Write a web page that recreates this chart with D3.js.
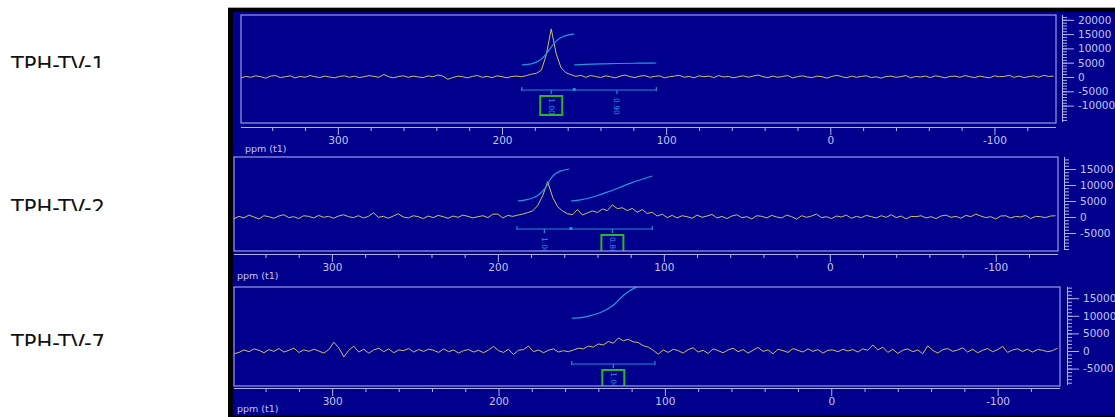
<!DOCTYPE html>
<meta charset="utf-8">
<head>
    <title>TPH-TV NMR spectra</title>
</head>
<script src="https://d3js.org/d3.v7.min.js"></script>
<style>
    body { margin: 0; background: #fff; }
    .frame { fill: none; stroke: #9a9ae6; stroke-width: 1.2px; }
    .axis text { fill: #c4c4f2; font-family: "DejaVu Sans", sans-serif; font-size: 10.5px; }
    .axis line, .axis path { stroke: #b4b4ee; }
    .spec { fill: none; stroke: #cfc06a; stroke-width: 1px; }
    .integ { fill: none; stroke: #1f9ae0; stroke-width: 1.2px; }
    .bracket { stroke: #1c8ed6; stroke-width: 1.2px; fill: none; }
    .ilabel { fill: #2a8ee8; font-family: "DejaVu Sans", sans-serif; font-size: 7.5px; }
    .gbox { fill: none; stroke: #2cb52c; stroke-width: 2px; }
</style>
<div id="viz"></div>
<script>

// spectra sampled every 3 ppm starting at 359 ppm
var ppmStart = 359, ppmStep = 3;

var spec1 = [
 -300, 200, -100, 400, 100, -400, 300, 500, -200, 100,
  400, -300, 200, -100, 500, 100, -200, 300, 0, -300,
  200, 400, -100, 300, -200, 100, 500, 200, -100, 900,
  100, -300, 200, 400, -100, 300, 0, -200, 400, 100,
  700, 300, -800, -200, 300, 100, -300, 200, 500, -100,
  200, -200, 400, 100, -300, 200, 300, 100, 500, 1000,
  1300, 2400, 7800, 16800, 8200, 3200, 1500, 800, 200, 600,
  -100, 500, 200, -200, 400, 100, -300, 300, 700, 100,
  -200, 300, 500, -100, 200, 400, -300, 100, 300, 600,
  -100, 200, -300, 400, 100, 300, -200, 500, 0, 200,
  -300, 100, 400, -100, 300, 700, 100, -200, 300, -100,
  200, 500, -300, 100, 400, 0, -200, 300, 100, -400,
  200, 600, 100, -300, 300, -100, 200, 400, -200, 100,
  -400, 200, 300, -100, 100, 500, -300, 200, 0, 300,
  -200, 400, 100, -300, 200, 300, -100, 500, 100, -200,
  300, 0, -300, 400, 100, 200, 600, -100, 300, -200,
  100, 400, -100, 600, 200, 300
];

var spec2 = [
 -500, 200, -300, 600, 0, -600, 400, 100, -400, 300,
  700, -200, 100, -500, 400, 200, -300, 500, -100, 200,
 -400, 300, 700, 100, -200, 400, -300, 200, 1300, -100,
  200, -400, 300, 1000, 0, -300, 400, 100, -500, 300,
 -200, 500, 100, -400, 300, -100, 600, 200, -300, 100,
  400, -200, 900, 900, -300, 500, 200, 600, 900, 1400,
  1900, 3600, 6600, 11000, 6200, 3200, 1900, 1000, 700, 2300,
  600, 1300, 1900, 1400, 2500, 2000, 3800, 2600, 2900, 2000,
  2700, 1500, 2300, 1100, 1500, 300, 900, -200, 500, -300,
  400, 100, -400, 600, -100, 300, 800, -300, 200, -500,
  300, 700, -200, 100, -600, 400, 200, -300, 500, 0,
 -300, 600, 100, -700, 400, -100, 300, 900, -200, 100,
 -500, 300, 0, 600, -400, 200, -200, 500, 100, -300,
  400, -100, 700, -200, 300, -600, 200, 100, 400, -300,
  100, -500, 300, 600, -100, 200, -400, 500, 100, 900,
  300, -200, 100, -600, 300, 400, -300, 200, 0, 500,
 -500, 200, 100, -200, 300, 400
];

var spec3 = [
 -800, -400, 300, -200, 600, 200, -500, 400, -100, 700,
 -300, 200, 800, -400, 300, -100, 500, 0, -600, 400,
  2500, 900, -1700, 200, 1400, -300, 500, -600, 300, 800,
 -200, 600, -500, 300, 100, 700, -300, 400, -100, 500,
  200, -400, 600, -200, 300, -600, 100, 400, -300, 200,
 -500, 300, 1300, 100, -400, 500, -1000, 200, 400, 1400,
 -200, 300, -500, 200, 600, -300, 100, -200, 300, 800,
  600, 1400, 1100, 2000, 1700, 2700, 2200, 3700, 2900, 3300,
  2600, 2400, 1500, 1100, 200, -900, 300, -400, 500, 100,
 -600, 400, 900, -300, 200, -700, 600, 100, -500, 300,
  800, -200, 400, -600, 200, 1000, -100, 300, -800, 500,
  100, -400, 700, 200, -300, 600, -100, 400, -600, 200,
  300, -200, 500, 0, 400, -300, 600, 200, 1700, 300,
  1100, -400, 500, -700, 200, 600, -200, 300, -800, 1500,
  200, -600, 400, 700, -100, 300, 900, -300, 500, -500,
  200, 700, -200, 400, 1300, -400, 300, 600, -100, 500,
 -300, 400, 200, -200, 100, 800
];

// integral curves [ppm, intensity]
var integ1 = [
  [[188, 4200], [182, 4500], [177, 5500], [173, 8000], [170, 10500], [167, 12800], [163, 14200], [159, 14800], [156, 15000]],
  [[156, 4200], [150, 4400], [140, 4550], [130, 4750], [120, 4800], [106, 4900]]
];
var integ2 = [
  [[188, 5000], [183, 5300], [179, 5800], [175, 7000], [171, 9000], [169, 11500], [166, 13500], [162, 14500], [157, 15000]],
  [[156, 5000], [150, 5300], [145, 5900], [140, 6700], [135, 7600], [130, 8500], [125, 9600], [120, 10600], [115, 11500], [107, 12800]]
];
var integ3 = [
  [[156, 9300], [150, 9400], [146, 9900], [140, 10600], [135, 11700], [130, 13200], [126, 15500], [121, 17200], [117, 18200], [112, 19500]]
];

// integration regions: from, to, centre, value, boxed
var regions1 = [[188, 156, 170, "1.00", true], [156, 106, 130, "0.90", false]];
var regions2 = [[188.5, 156, 172, "1.00", false], [156, 107, 131, "0.80", true]];
var regions3 = [[156, 106, 131, "1.00", true]];

var sampleNames = ["TPH-TV-1", "TPH-TV-2", "TPH-TV-7"];
var xMajor = [300, 200, 100, 0, -100];
var yTicks1 = [20000, 15000, 10000, 5000, 0, -5000, -10000];
var yTicks2 = [15000, 10000, 5000, 0, -5000];
var yTicks3 = [15000, 10000, 5000, 0, -5000];

var panels = [
  {spec: spec1, integ: integ1, regions: regions1, yTicks: yTicks1,
   x0: 241, x1: 1056, y0: 15, y1: 123, axisY: 127, zeroY: 77, per5k: 14.3, yAxisX: 1062,
   bracketY: 90, pplX: 245, pplY: 152, nameY: 72, clipName: 68},
  {spec: spec2, integ: integ2, regions: regions2, yTicks: yTicks2,
   x0: 234, x1: 1058, y0: 157, y1: 251, axisY: 254, zeroY: 217, per5k: 16, yAxisX: 1064,
   bracketY: 229, pplX: 237, pplY: 279, nameY: 215, clipName: 211},
  {spec: spec3, integ: integ3, regions: regions3, yTicks: yTicks3,
   x0: 234, x1: 1060, y0: 287, y1: 386, axisY: 388, zeroY: 351, per5k: 17.6, yAxisX: 1067,
   bracketY: 364, pplX: 237, pplY: 412, nameY: 350, clipName: 346}
];

var W = 1115, H = 417;
var svg = d3.select('#viz').append('svg')
    .attr('width', W).attr('height', H);
var defs = svg.append('defs');

// dark instrument window
svg.append('rect').attr('x', 228).attr('y', 7).attr('width', W - 228).attr('height', H - 7).attr('fill', '#000');
svg.append('line').attr('x1', 228).attr('x2', W).attr('y1', 7.5).attr('y2', 7.5).attr('stroke', '#aaa');
svg.append('rect').attr('x', 233).attr('y', 12).attr('width', W - 233).attr('height', H - 14).attr('fill', '#00008c');

panels.forEach(function(p, k) {
    var x = d3.scaleLinear().domain([359, -137.5]).range([p.x0, p.x1]);
    var y = d3.scaleLinear().domain([0, 5000]).range([p.zeroY, p.zeroY - p.per5k]);

    // sample name, cut off at the bottom like the original
    defs.append('clipPath').attr('id', 'nclip' + k)
        .append('rect').attr('x', 0).attr('y', p.nameY - 20).attr('width', 220).attr('height', p.clipName - p.nameY + 20);
    svg.append('text')
        .attr('x', 11).attr('y', p.nameY)
        .attr('clip-path', 'url(#nclip' + k + ')')
        .style('font-family', '"DejaVu Sans", sans-serif')
        .style('font-size', '21px')
        .style('fill', '#111')
        .text(sampleNames[k]);

    defs.append('clipPath').attr('id', 'pclip' + k)
        .append('rect').attr('x', p.x0).attr('y', p.y0).attr('width', p.x1 - p.x0).attr('height', p.y1 - p.y0);
    var g = svg.append('g').attr('clip-path', 'url(#pclip' + k + ')');

    // spectrum
    g.append('path')
        .datum(p.spec)
        .attr('class', 'spec')
        .attr('d', d3.line()
            .x(function(d, i) { return x(ppmStart - i * ppmStep); })
            .y(function(d) { return y(d); }));

    // integral curves
    p.integ.forEach(function(c) {
        g.append('path')
            .datum(c)
            .attr('class', 'integ')
            .attr('d', d3.line().curve(d3.curveBasis)
                .x(function(d) { return x(d[0]); })
                .y(function(d) { return y(d[1]); }));
    });

    // integration brackets and values
    var by = p.bracketY;
    var first = p.regions[0][0], last = p.regions[p.regions.length - 1][1];
    g.append('line').attr('class', 'bracket')
        .attr('x1', x(first)).attr('x2', x(last)).attr('y1', by).attr('y2', by);
    [first, last].forEach(function(v) {
        g.append('line').attr('class', 'bracket')
            .attr('x1', x(v)).attr('x2', x(v)).attr('y1', by - 3).attr('y2', by + 1);
    });
    p.regions.forEach(function(r, j) {
        var cx = x(r[2]);
        if (j > 0) {
            g.append('rect').attr('x', x(r[0]) - 1.5).attr('y', by - 2).attr('width', 3).attr('height', 3)
                .attr('fill', '#1c8ed6');
        }
        g.append('line').attr('class', 'bracket')
            .attr('x1', cx).attr('x2', cx).attr('y1', by).attr('y2', by + 4);
        g.append('text')
            .attr('class', 'ilabel')
            .attr('transform', 'translate(' + (cx - 2.5) + ',' + (by + 8) + ')rotate(90)')
            .text(r[3]);
        if (r[4]) {
            g.append('rect').attr('class', 'gbox')
                .attr('x', cx - 11).attr('y', by + 6).attr('width', 22).attr('height', 19);
        }
    });

    // frame
    svg.append('rect').attr('class', 'frame')
        .attr('x', p.x0).attr('y', p.y0).attr('width', p.x1 - p.x0).attr('height', p.y1 - p.y0);

    // x axis: minor and major ticks
    var minor = d3.range(-120, 360, 20).filter(function(v) { return xMajor.indexOf(v) < 0; });
    var gx = svg.append('g').attr('class', 'axis')
        .attr('transform', 'translate(0,' + p.axisY + ')');
    gx.call(d3.axisBottom(x).tickValues(minor).tickSize(4).tickFormat(''))
        .select('.domain').attr('d', 'M' + p.x0 + ',0.5H' + p.x1);
    svg.append('g').attr('class', 'axis')
        .attr('transform', 'translate(0,' + p.axisY + ')')
        .call(d3.axisBottom(x).tickValues(xMajor).tickSize(8).tickPadding(2).tickFormat(function(d) { return d < 0 ? '-' + Math.abs(d) : d; }))
        .select('.domain').remove();
    svg.append('text')
        .attr('x', p.pplX).attr('y', p.pplY)
        .style('fill', '#c4c4f2')
        .style('font-family', '"DejaVu Sans", sans-serif')
        .style('font-size', '9.5px')
        .text('ppm (t1)');

    // y axis on the right
    var yMinor = d3.range(-20000, 30000, 1000).filter(function(v) {
        var py = y(v); return py >= p.y0 && py <= p.y1 - 1;
    });
    var gy = svg.append('g').attr('class', 'axis')
        .attr('transform', 'translate(' + p.yAxisX + ',0)');
    gy.call(d3.axisRight(y).tickValues(yMinor).tickSize(5).tickFormat(''))
        .select('.domain').attr('d', 'M0.5,' + p.y0 + 'V' + (p.y1 - 1));
    svg.append('g').attr('class', 'axis')
        .attr('transform', 'translate(' + p.yAxisX + ',0)')
        .call(d3.axisRight(y).tickValues(p.yTicks).tickSize(12).tickPadding(4).tickFormat(function(d) { return d < 0 ? '-' + Math.abs(d) : d; }))
        .select('.domain').remove();
});

</script>
